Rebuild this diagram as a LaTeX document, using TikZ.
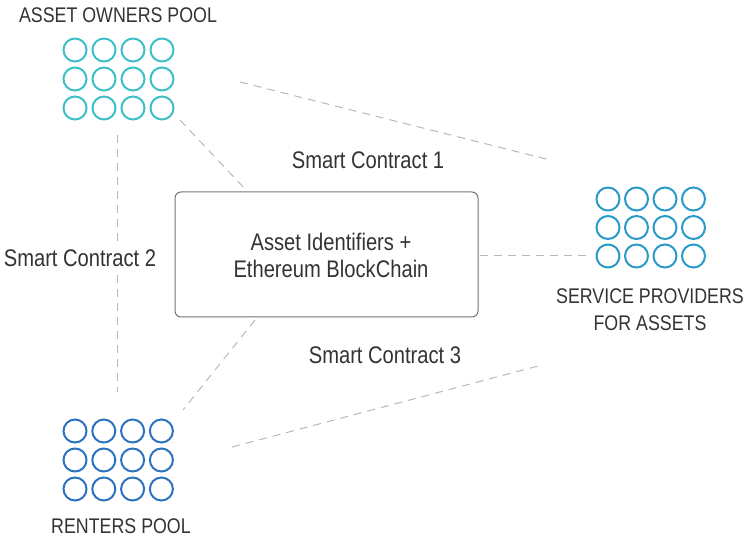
\documentclass[tikz,border=0pt]{standalone}
\usepackage{fontspec}
\setmainfont{Liberation Sans}[FakeStretch=0.84]
\definecolor{ownerc}{HTML}{3DBFC8}
\definecolor{servc}{HTML}{2A9BC9}
\definecolor{rentc}{HTML}{2B72C0}
\definecolor{txtc}{HTML}{333333}
\tikzset{
  link/.style={draw=black!28, line width=0.5pt, dash pattern=on 4pt off 3pt},
  lbl/.style={text=txtc, font=\fontsize{12}{13.5}\selectfont, inner sep=0pt},
  caps/.style={text=txtc, font=\fontsize{10.6}{13.5}\selectfont, inner sep=0pt},
  pool/.style={inner sep=0pt, minimum width=55pt, minimum height=41pt},
  dot/.style={line width=1pt}
}
\begin{document}
\begin{tikzpicture}[x=0.5pt,y=-0.5pt]
  \useasboundingbox (0,0) rectangle (744,544);

  % the three pools
  \node[pool] (owners) at (118,79) {};
  \node[pool] (providers) at (650,227) {};
  \node[pool] (renters) at (118,460) {};
  \foreach \i in {0,...,3}
    \foreach \j in {0,...,2} {
      \draw[dot, ownerc] (75+\i*29,50+\j*29) circle (11.5);
      \draw[dot, servc] (608+\i*28.5,199+\j*28.5) circle (11.5);
      \draw[dot, rentc] (75+\i*28.8,431+\j*29) circle (11.5);
    }

  \node[caps] (ownerstxt) at (118,15) {ASSET OWNERS POOL};
  \node[caps, align=center] (providerstxt) at (650,310)
    {SERVICE PROVIDERS\\FOR ASSETS};
  \node[caps] (renterstxt) at (121,526) {RENTERS POOL};

  % the chain in the middle
  \node[draw=black!55, line width=0.5pt, rounded corners=3pt,
        minimum width=151.5pt, minimum height=62.5pt] (chain) at (326.5,254.5) {};
  \node[lbl, align=center] (chaintxt) at (331,255)
    {Asset Identifiers +\\Ethereum BlockChain};

  % dashed links
  \coordinate (a1) at (180,120);
  \coordinate (a2) at (246,190);
  \coordinate (b1) at (240,82);
  \coordinate (b2) at (550,160);
  \coordinate (c1) at (117,135);
  \coordinate (c2) at (117,392);
  \coordinate (d1) at (480,256);
  \coordinate (d2) at (586,256);
  \coordinate (e1) at (255,320);
  \coordinate (e2) at (183,410);
  \coordinate (f1) at (232,447);
  \coordinate (f2) at (542,365);
  \draw[link] (a1) -- (a2);
  \draw[link] (b1) -- (b2);
  \draw[link] (c1) -- (c2);
  \draw[link] (d1) -- (d2);
  \draw[link] (e1) -- (e2);
  \draw[link] (f1) -- (f2);

  \node[lbl] (sc1) at (368,160) {Smart Contract 1};
  \node[lbl, fill=white, inner ysep=2pt] (sc2) at (80,258) {Smart Contract 2};
  \node[lbl] (sc3) at (385,355) {Smart Contract 3};
\end{tikzpicture}
\end{document}
